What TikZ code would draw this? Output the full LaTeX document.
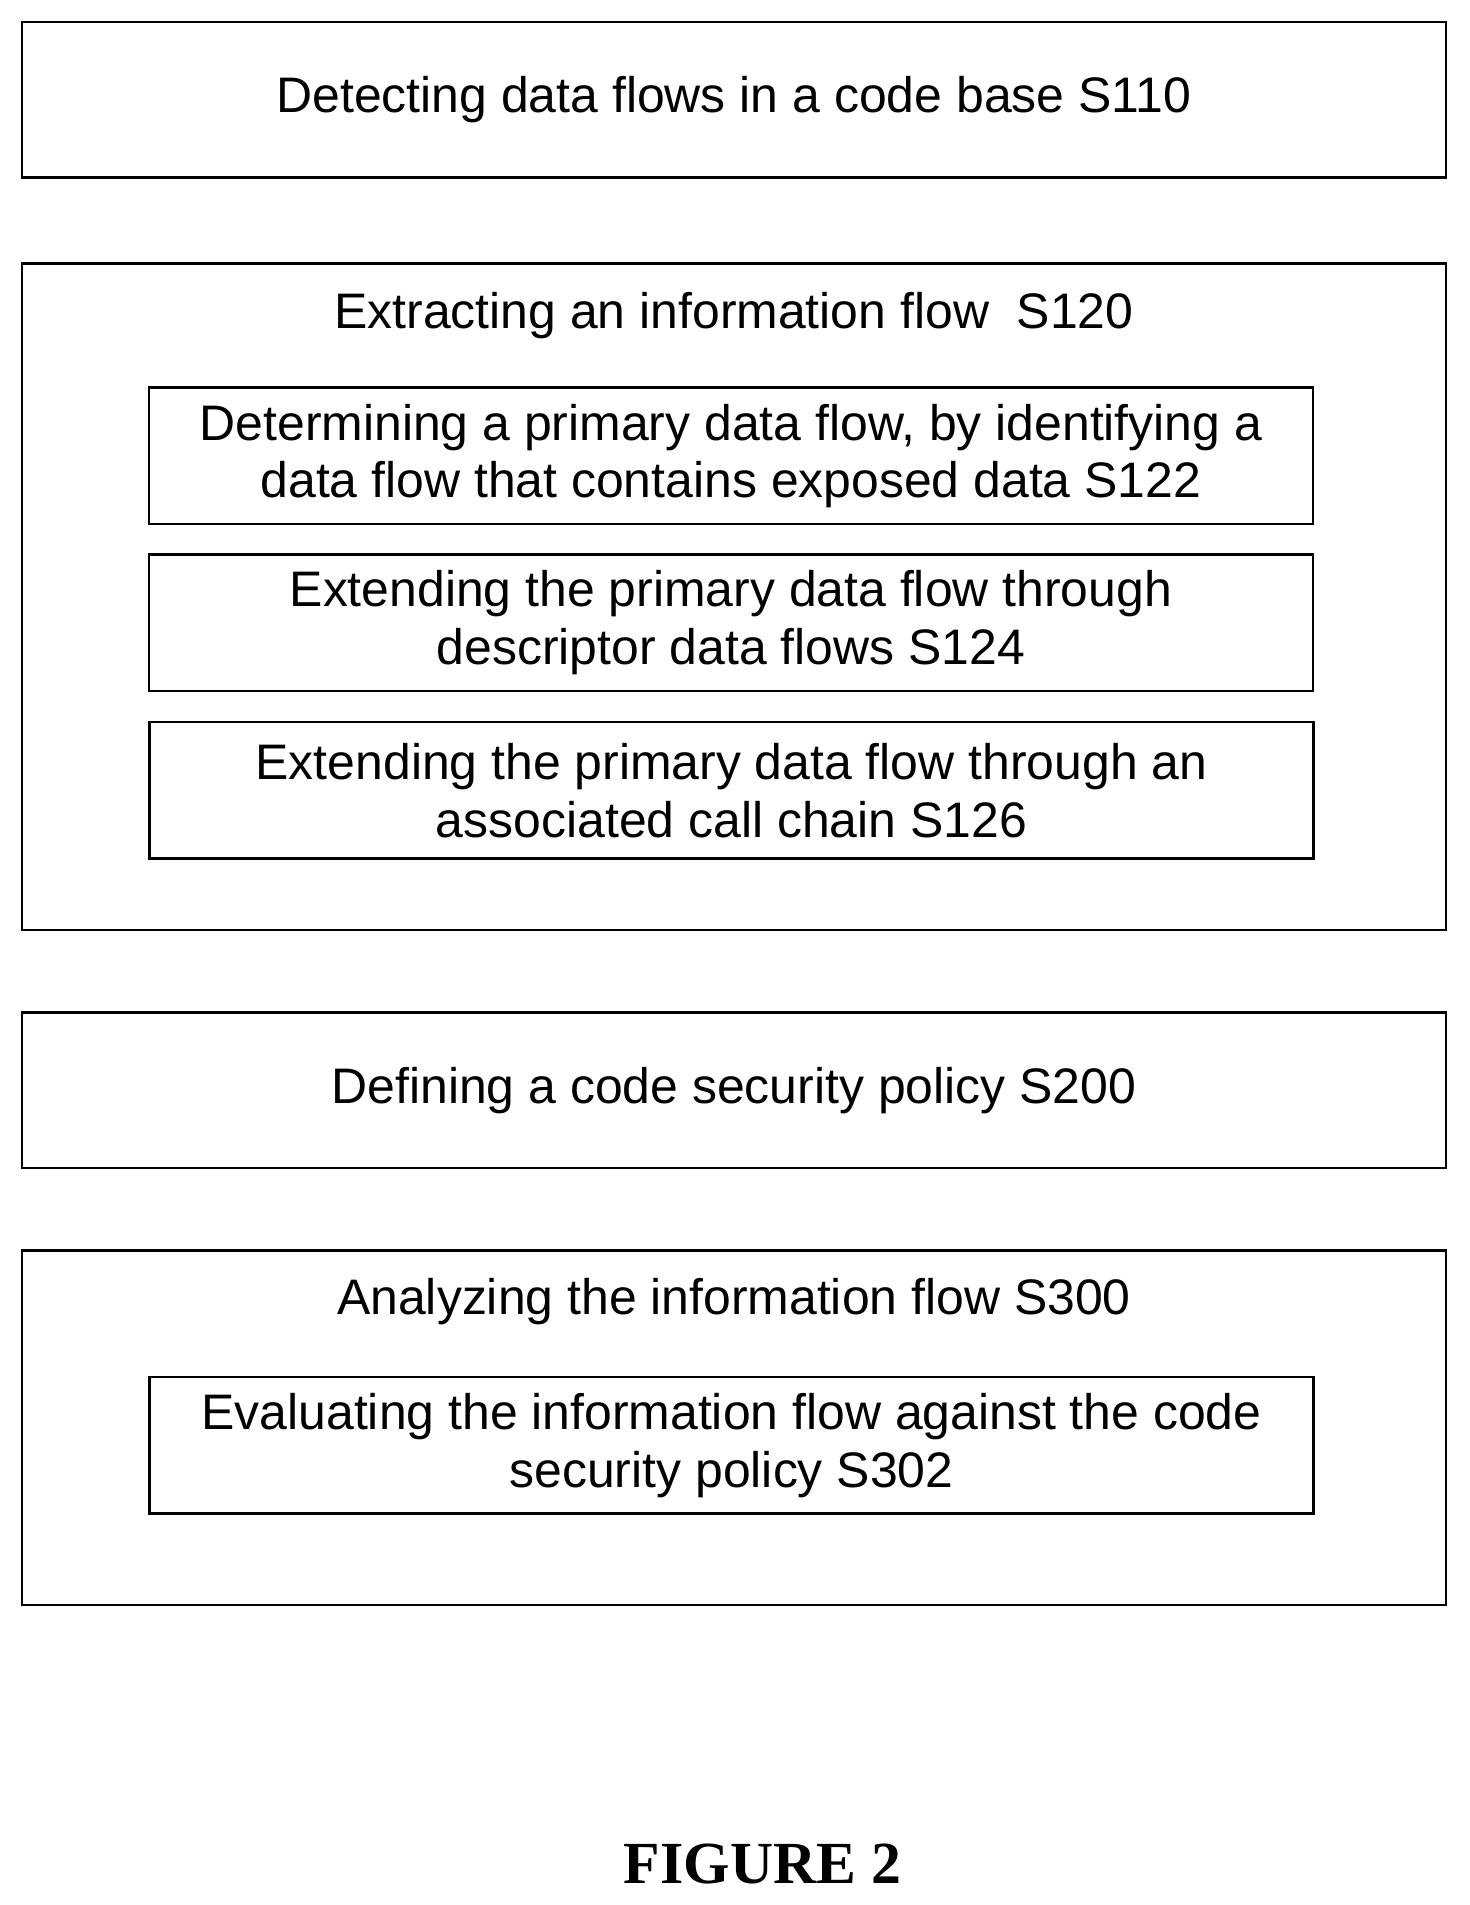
\documentclass[tikz,border=0pt]{standalone}
\usepackage{fontspec}
\setmainfont{Liberation Sans}
\newfontfamily\capfont{Liberation Serif}
\usetikzlibrary{positioning}

\begin{document}
\begin{tikzpicture}[x=0.02cm, y=-0.02cm,
    mainbox/.style={draw, line width=1.2pt, rectangle, minimum width=23.46cm, font=\fontsize{23.4}{27}\selectfont},
    subbox/.style={draw, line width=1.2pt, rectangle, minimum width=19.18cm, minimum height=2.25cm, align=center, font=\fontsize{23.4}{27}\selectfont},
    boxtitle/.style={font=\fontsize{23.4}{27}\selectfont}]
    \useasboundingbox (0,0) rectangle (1210,1569);

    \node[mainbox, minimum height=2.56cm] (S110) at (604.5,82) {Detecting data flows in a code base S110};

    \node[mainbox, minimum height=10.98cm] (S120) at (604.5,491.5) {};
    \node[boxtitle] (S120t) at (604.5,260) {Extracting an information flow\ \ S120};
    \node[subbox] (S122) at (602,375.5) {Determining a primary data flow, by identifying a\\data flow that contains exposed data S122};
    \node[subbox] (S124) at (602,513) {Extending the primary data flow through\\descriptor data flows S124};
    \node[subbox] (S126) at (602.5,651) {Extending the primary data flow through an\\associated call chain S126};

    \node[mainbox, minimum height=2.56cm] (S200) at (604.5,898) {Defining a code security policy S200};

    \node[mainbox, minimum height=5.84cm] (S300) at (604.5,1176) {};
    \node[boxtitle] (S300t) at (604.5,1072) {Analyzing the information flow S300};
    \node[subbox] (S302) at (602.5,1190.5) {Evaluating the information flow against the code\\security policy S302};

    \node[font=\capfont\bfseries\fontsize{28}{32}\selectfont] (fig) at (628,1535) {FIGURE 2};
\end{tikzpicture}
\end{document}
